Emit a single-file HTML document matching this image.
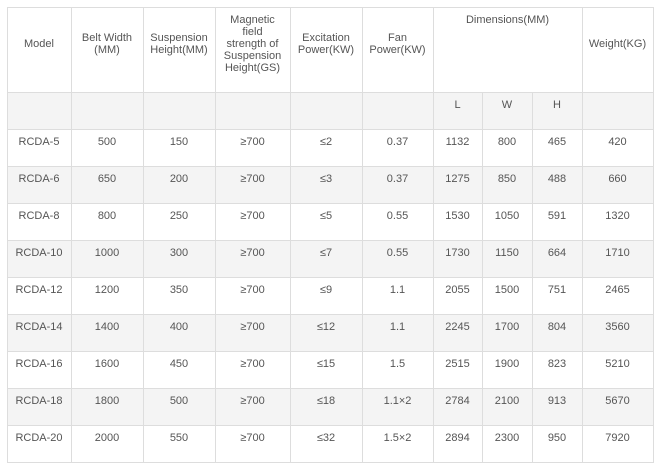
<!DOCTYPE html>
<html><head><meta charset="utf-8"><style>
body{margin:0;background:#fff;width:665px;height:465px;position:relative;font-family:"Liberation Sans",Arial,sans-serif;font-size:11px;color:#555;}
.h{position:absolute;background:#ddd;height:1px}
.v{position:absolute;background:#ddd;width:1px}
.g{position:absolute;background:#f4f4f4;left:7px;width:646px;height:37px}
.t{position:absolute;text-align:center;line-height:12px}
</style></head><body>
<div class="g" style="top:92px"></div>
<div class="g" style="top:166px"></div>
<div class="g" style="top:240px"></div>
<div class="g" style="top:314px"></div>
<div class="g" style="top:388px"></div>
<div id="lines"></div>
<div id="cells"></div>
<script>
var xs=[7,71,143,215,290,362,433,482,532,582,653];
var L=document.getElementById('lines'),s='';
// horizontal lines
var ys=[7,92,129];for(var i=1;i<=9;i++)ys.push(129+37*i);
ys.forEach(function(y){s+='<div class="h" style="top:'+y+'px;left:7px;width:647px"></div>';});
xs.forEach(function(x){
 var top=7;
 if(x==482||x==532)top=92;
 s+='<div class="v" style="left:'+x+'px;top:'+top+'px;height:'+(462-top+1)+'px"></div>';});
L.innerHTML=s;
</script>
<div class="t" style="left:7px;width:64px;top:38px">Model</div>
<div class="t" style="left:71px;width:72px;top:32px">Belt Width<br>(MM)</div>
<div class="t" style="left:143px;width:72px;top:32px">Suspension<br>Height(MM)</div>
<div class="t" style="left:215px;width:75px;top:14px">Magnetic<br>field<br>strength of<br>Suspension<br>Height(GS)</div>
<div class="t" style="left:290px;width:72px;top:32px">Excitation<br>Power(KW)</div>
<div class="t" style="left:362px;width:71px;top:32px">Fan<br>Power(KW)</div>
<div class="t" style="left:433px;width:149px;top:14px">Dimensions(MM)</div>
<div class="t" style="left:582px;width:71px;top:38px">Weight(KG)</div>
<div class="t" style="left:433px;width:49px;top:99px">L</div>
<div class="t" style="left:482px;width:50px;top:99px">W</div>
<div class="t" style="left:532px;width:50px;top:99px">H</div>
<div id="rows"></div>
<div style="display:none" id="data">
RCDA-5|500|150|≥700|≤2|0.37|1132|800|465|420
RCDA-6|650|200|≥700|≤3|0.37|1275|850|488|660
RCDA-8|800|250|≥700|≤5|0.55|1530|1050|591|1320
RCDA-10|1000|300|≥700|≤7|0.55|1730|1150|664|1710
RCDA-12|1200|350|≥700|≤9|1.1|2055|1500|751|2465
RCDA-14|1400|400|≥700|≤12|1.1|2245|1700|804|3560
RCDA-16|1600|450|≥700|≤15|1.5|2515|1900|823|5210
RCDA-18|1800|500|≥700|≤18|1.1×2|2784|2100|913|5670
RCDA-20|2000|550|≥700|≤32|1.5×2|2894|2300|950|7920
</div>
<script>
var rows=document.getElementById('data').textContent.trim().split('\n'),h='';
rows.forEach(function(r,i){var c=r.split('|');var y=129+37*i+7;
 c.forEach(function(v,j){h+='<div class="t" style="left:'+xs[j]+'px;width:'+(xs[j+1]-xs[j])+'px;top:'+y+'px">'+v+'</div>';});});
document.getElementById('rows').innerHTML=h;
</script>
</body></html>
